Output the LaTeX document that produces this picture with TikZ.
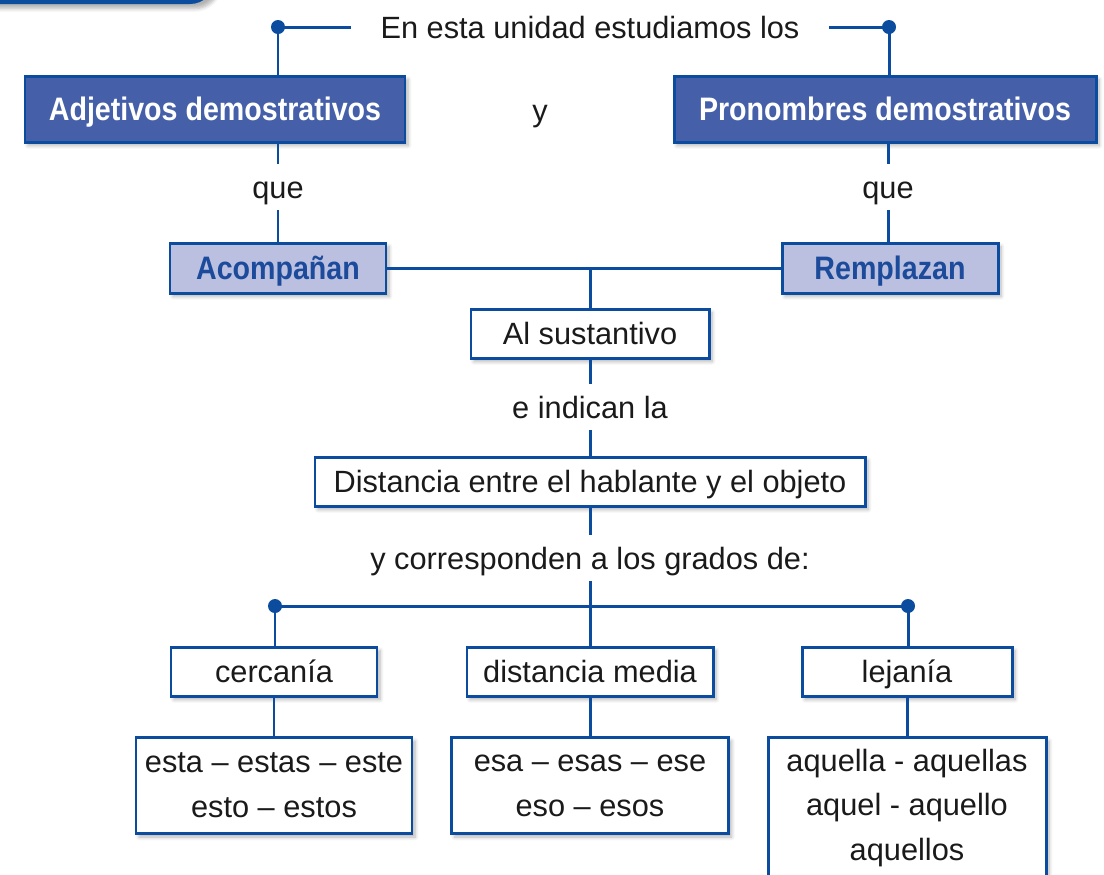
\documentclass[tikz,border=0pt]{standalone}
\usepackage{fontspec}
\setmainfont{Liberation Sans}
\newfontfamily\condsf[FakeStretch=0.88]{Liberation Sans}
\usetikzlibrary{positioning, shadows.blur}

\definecolor{lineblue}{HTML}{0B4C9E}
\definecolor{boxblue}{HTML}{4560A8}
\definecolor{lila}{HTML}{BCC0E0}
\definecolor{darktxt}{HTML}{1C4B9B}
\definecolor{txt}{HTML}{1A1A1A}

\tikzset{
  conn/.style={draw=lineblue, line width=1.7pt},
  boxbase/.style={draw=lineblue, line width=1.7pt, fill=white, text=txt,
    inner sep=0pt, align=center,
    blur shadow={shadow blur steps=6, shadow xshift=0.6mm, shadow yshift=-0.7mm, shadow opacity=30}},
  oneline/.style={text height=12.8pt, text depth=0pt},
  plainbox/.style={boxbase, oneline, minimum height=0.98cm},
  headbox/.style={plainbox, fill=boxblue, text=white, minimum height=1.32cm,
    font=\condsf\bfseries\fontsize{18.5}{21}\selectfont},
  verbbox/.style={plainbox, fill=lila, text=darktxt, minimum height=1.0cm,
    font=\condsf\bfseries\fontsize{18.5}{21}\selectfont},
  exbox/.style={boxbase, anchor=north, font=\fontsize{17.5}{25.5}\selectfont},
  linktext/.style={oneline, text=txt, inner xsep=0pt, minimum height=0.9cm},
  dot/.style={circle, fill=lineblue, inner sep=0pt, minimum size=0.28cm},
}

\begin{document}
\begin{tikzpicture}[font=\fontsize{17.5}{21}\selectfont]
\useasboundingbox (0,0) rectangle (22.08,-17.48);
% tab in the corner
\begin{scope}
  \clip (0,0) rectangle (22.08,-17.48);
  \fill[lineblue, rounded corners=0.5cm, blur shadow={shadow blur steps=6, shadow opacity=30}] (-1,1) rectangle (4.3,-0.08);
\end{scope}

% heading
\node[linktext, inner xsep=0.59cm] (intro) at (11.8,-0.54) {En esta unidad estudiamos los};
\node[dot] (dotadj) at (5.56,-0.54) {};
\node[dot] (dotpron) at (17.78,-0.54) {};
\node[headbox, minimum width=7.6cm] (adj) at (4.3,-2.18) {Adjetivos demostrativos};
\node[linktext] (y) at (10.8,-2.2) {y};
\node[headbox, minimum width=8.44cm] (pron) at (17.7,-2.18) {Pronombres demostrativos};

% verbs
\node[linktext] (queadj) at (5.56,-3.74) {que};
\node[linktext] (quepron) at (17.76,-3.74) {que};
\node[verbbox, minimum width=4.32cm] (acomp) at (5.56,-5.36) {Acompañan};
\node[verbbox, minimum width=4.32cm] (reempl) at (17.8,-5.36) {Remplazan};

% middle column
\node[plainbox, minimum width=4.76cm] (sust) at (11.8,-6.67) {Al sustantivo};
\node[linktext] (indican) at (11.8,-8.14) {e indican la};
\node[plainbox, minimum width=11cm] (dist) at (11.8,-9.63) {Distancia entre el hablante y el objeto};
\node[linktext] (grados) at (11.8,-11.16) {y corresponden a los grados de:};

% degrees
\node[dot] (dotcerca) at (5.5,-12.12) {};
\node[dot] (dotlejos) at (18.16,-12.12) {};
\node[plainbox, minimum width=4.12cm] (cerca) at (5.48,-13.43) {cercanía};
\node[plainbox, minimum width=4.92cm] (media) at (11.8,-13.43) {distancia media};
\node[plainbox, minimum width=4.2cm] (lejos) at (18.14,-13.43) {lejanía};
\node[exbox, minimum width=5.52cm, minimum height=1.92cm] (cercaej) at (5.48,-14.72) {esta -- estas -- este\\esto -- estos};
\node[exbox, minimum width=5.54cm, minimum height=1.92cm] (mediaej) at (11.8,-14.72) {esa -- esas -- ese\\eso -- esos};
\node[exbox, minimum width=5.56cm, minimum height=2.82cm] (lejosej) at (18.14,-14.72) {aquella - aquellas\\aquel - aquello\\aquellos};

% connectors
\draw[conn] (dotadj.center) -- (intro.west);
\draw[conn] (intro.east) -- (dotpron.center);
\draw[conn] (dotadj.center) -- (dotadj |- adj.north);
\draw[conn] (dotpron.center) -- (dotpron |- pron.north);
\draw[conn] (queadj |- adj.south) -- (queadj.north);
\draw[conn] (queadj.south) -- (acomp.north);
\draw[conn] (quepron |- pron.south) -- (quepron.north);
\draw[conn] (quepron.south) -- (quepron |- reempl.north);
\draw[conn] (acomp.east) -- (reempl.west);
\draw[conn] (sust.north |- acomp.east) -- (sust.north);
\draw[conn] (sust.south) -- (indican.north);
\draw[conn] (indican.south) -- (dist.north);
\draw[conn] (dist.south) -- (grados.north);
\draw[conn] (grados.south) -- (media.north);
\draw[conn] (dotcerca.center) -- (dotlejos.center);
\draw[conn] (dotcerca.center) -- (dotcerca |- cerca.north);
\draw[conn] (dotlejos.center) -- (dotlejos |- lejos.north);
\draw[conn] (cerca.south) -- (cercaej.north);
\draw[conn] (media.south) -- (mediaej.north);
\draw[conn] (lejos.south) -- (lejosej.north);
\end{tikzpicture}
\end{document}
